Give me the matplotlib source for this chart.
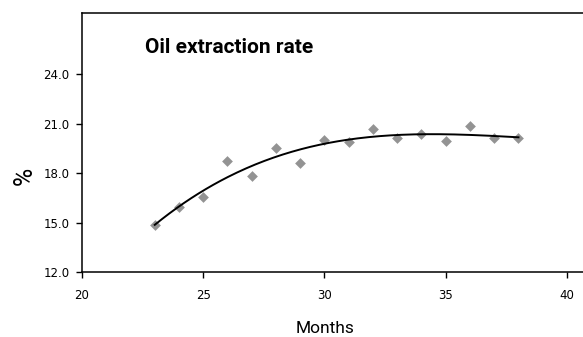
import numpy as np
import matplotlib.pyplot as plt

# Monthly oil extraction rate (%)
months = [23, 24, 25, 26, 27, 28, 29, 30, 31, 32, 33, 34, 35, 36, 37, 38]
rate = [14.83, 15.96, 16.55, 18.75, 17.8, 19.53, 18.6, 20.0, 19.87, 20.69,
        20.1, 20.36, 19.97, 20.87, 20.1, 20.1]

x_ticks = [20, 25, 30, 35, 40]
y_ticks = [12.0, 15.0, 18.0, 21.0, 24.0]

fig = plt.figure(figsize=(5.83, 3.37), dpi=100)
ax = fig.add_axes([82 / 583, 1 - 272 / 337, 501 / 583, 259 / 337])

ax.scatter(months, rate, marker='D', s=30, color='#939393', zorder=2, linewidths=0)

# third-order polynomial trend line
coef = np.polyfit(months, rate, 3)
xs = np.linspace(min(months), max(months), 200)
ax.plot(xs, np.polyval(coef, xs), color='black', lw=1.4, zorder=3)

ax.set_xlim(20, 40.66)
ax.set_ylim(12.0, 27.7)
ax.set_xticks(x_ticks)
ax.set_yticks(y_ticks)
ax.set_yticklabels([f'{v:.1f}' for v in y_ticks])
ax.tick_params(labelsize=8.5, length=4, width=1, pad=5, colors='black')
ax.tick_params(axis='x', pad=8)
ax.spines['right'].set_visible(False)
for s in ['left', 'top', 'bottom']:
    ax.spines[s].set_linewidth(1.1)

ax.text(0.125, 0.865, 'Oil extraction rate', transform=ax.transAxes,
        fontsize=15, fontweight='bold', family='Roboto', va='center', ha='left')
ax.set_xlabel('Months', fontsize=12.5, family='Roboto', labelpad=14)
ax.xaxis.label.set_x(0.486)
ax.set_ylabel('%', fontsize=18, family='Roboto', labelpad=5)
ax.yaxis.label.set_y(0.37)

fig.savefig('out.png', dpi=100)
